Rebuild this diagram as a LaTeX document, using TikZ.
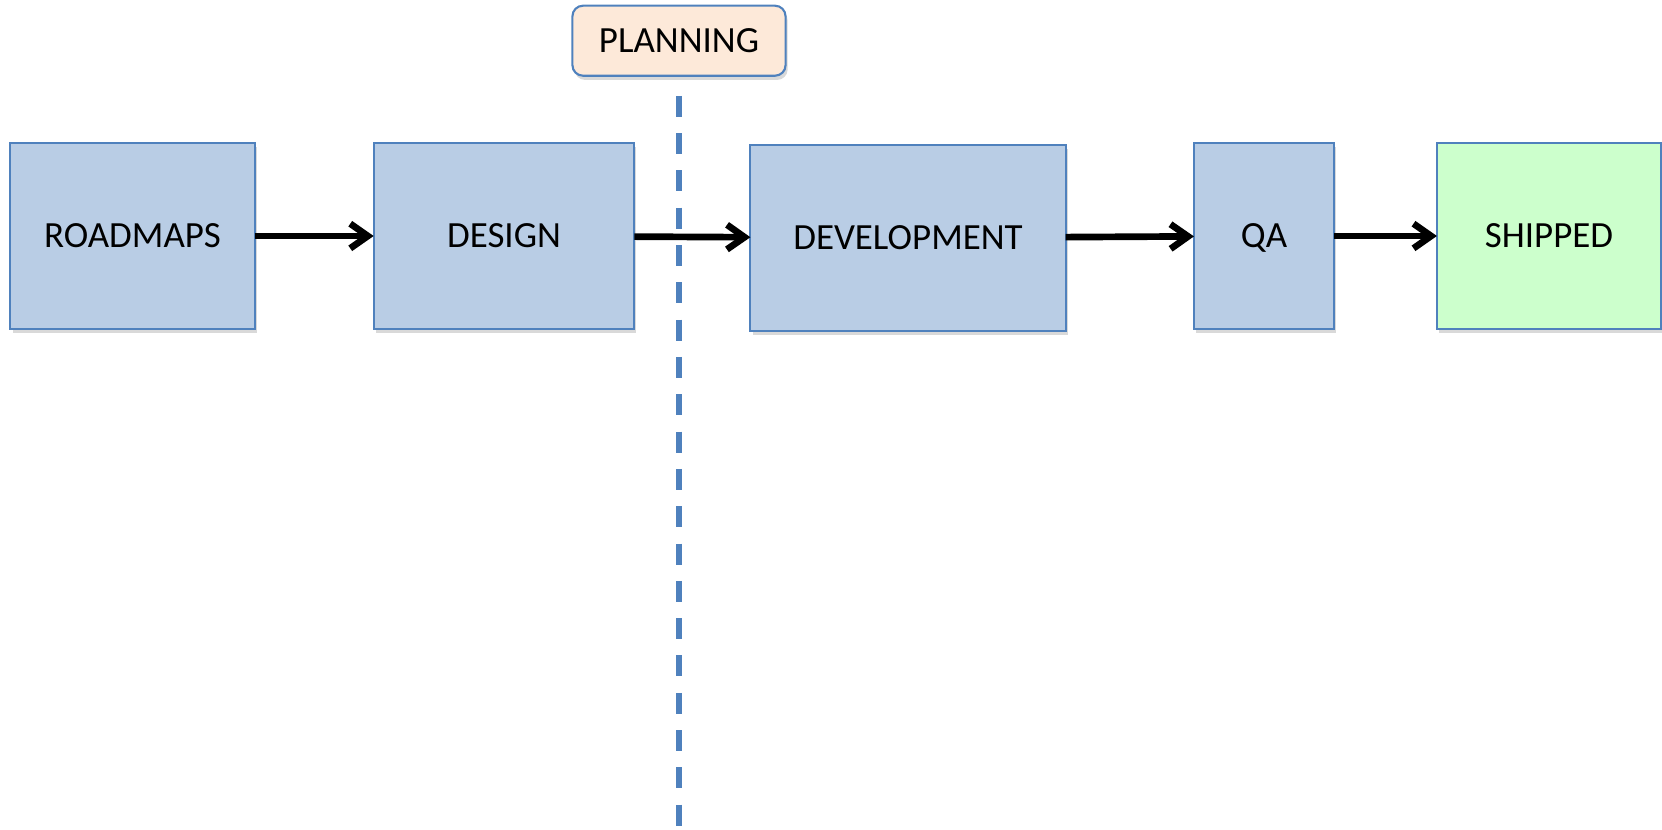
\documentclass[tikz,border=0pt]{standalone}
\usepackage{fontspec}
\setmainfont{Carlito}
\usetikzlibrary{arrows.meta,shadows}

\definecolor{boxblue}{HTML}{B9CDE5}
\definecolor{edgeblue}{HTML}{4F81BD}
\definecolor{shipgreen}{HTML}{CCFFCC}
\definecolor{planpeach}{HTML}{FDE9D9}

\begin{document}
\begin{tikzpicture}[x=0.01cm,y=-0.01cm,
	every node/.style={black,font=\fontsize{10.5}{12.5}\selectfont},
	stage/.style={draw=edgeblue,fill=boxblue,line width=0.6pt,inner sep=0pt,outer sep=0pt,text depth=0pt,
		minimum height=1.86cm,drop shadow={opacity=0.3,shadow xshift=0.6pt,shadow yshift=-1.2pt}},
	flow/.style={line width=1.9pt,-{Straight Barb[length=5pt,width=7pt]}}]
	\useasboundingbox (0,0) rectangle (1662,830);

	\node[stage,minimum width=2.44cm] (roadmaps) at (132.5,236) {ROADMAPS};
	\node[stage,minimum width=2.605cm] (design) at (504,236) {DESIGN};
	\node[stage,minimum width=3.15cm] (development) at (908,238) {DEVELOPMENT};
	\node[stage,minimum width=1.40cm] (qa) at (1264,236) {QA};
	\node[stage,fill=shipgreen,minimum width=2.24cm] (shipped) at (1549,236) {SHIPPED};

	\node[stage,fill=planpeach,rounded corners=3pt,minimum width=2.13cm,minimum height=0.70cm] (planning) at (679,40.7) {PLANNING};
	\coordinate (planend) at (679,830);

	\draw[edgeblue,line width=1.5pt,dash pattern=on 5.97pt off 4.64pt,shorten <=5.7pt] (planning.south) -- (planend);

	\draw[flow] (roadmaps) -- (design);
	\draw[flow] (design) -- (development);
	\draw[flow] (development) -- (qa);
	\draw[flow] (qa) -- (shipped);
\end{tikzpicture}
\end{document}
